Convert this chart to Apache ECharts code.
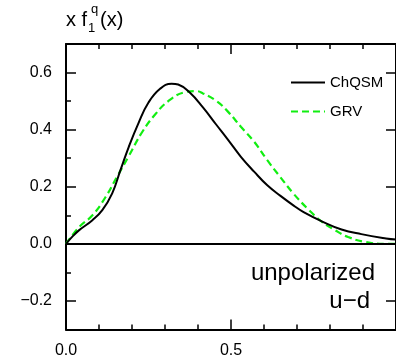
<!DOCTYPE html>
<html>
<head>
<meta charset="utf-8">
<script src="https://cdn.jsdelivr.net/npm/echarts@6/dist/echarts.min.js"></script>
<style>html,body{margin:0;padding:0;background:#fff;}#c{width:396px;height:360px;}</style>
</head>
<body>
<div id="c"></div>
<script>
// ChQSM curve
const chqsmX = [0, 0.02, 0.04, 0.08, 0.11, 0.14, 0.165, 0.19, 0.22, 0.25, 0.285, 0.32, 0.34, 0.375, 0.415, 0.455, 0.49, 0.53, 0.57, 0.61, 0.65, 0.69, 0.72, 0.78, 0.835, 0.895, 0.97, 1.0];
const chqsmY = [0, 0.026, 0.048, 0.083, 0.118, 0.177, 0.258, 0.339, 0.424, 0.495, 0.543, 0.561, 0.558, 0.530, 0.478, 0.418, 0.366, 0.305, 0.253, 0.205, 0.168, 0.134, 0.111, 0.076, 0.050, 0.034, 0.019, 0.015];
// GRV curve
const grvX = [0, 0.04, 0.08, 0.12, 0.155, 0.19, 0.23, 0.27, 0.31, 0.36, 0.395, 0.415, 0.455, 0.49, 0.53, 0.57, 0.61, 0.65, 0.69, 0.735, 0.775, 0.815, 0.855, 0.905, 0.97, 1.0];
const grvY = [0, 0.059, 0.100, 0.164, 0.236, 0.307, 0.390, 0.453, 0.500, 0.531, 0.535, 0.527, 0.501, 0.464, 0.410, 0.358, 0.293, 0.233, 0.175, 0.120, 0.078, 0.048, 0.024, 0.007, 0.0, 0.0];
// ticks
const yMajorTicks = [-0.2, 0, 0.2, 0.4, 0.6];
const yMinorTicks = [-0.1, 0.1, 0.3, 0.5];
const seriesNames = ['ChQSM', 'GRV'];

const FONT = 'Liberation Sans, Arial, sans-serif';
const zip = (xs, ys) => xs.map((x, i) => [x, ys[i]]);
const fmt = v => (v < 0 ? '\u2212' : '') + Math.abs(v).toFixed(1);

const chart = echarts.init(document.getElementById('c'), null, {renderer: 'canvas'});
const axisLine = {show: true, onZero: false, lineStyle: {color: '#000', width: 2}};
const tickStyle = {color: '#000', width: 1.5};
chart.setOption({
  animation: false,
  backgroundColor: '#fff',
  grid: {left: 66, right: -10, top: 44, bottom: 30.5},
  legend: {
    orient: 'vertical', left: 290, top: 75, padding: 0, itemWidth: 34, itemHeight: 14, itemGap: 14,
    itemStyle: {opacity: 0},
    textStyle: {fontFamily: FONT, fontSize: 15, color: '#000'},
    data: seriesNames
  },
  xAxis: [{
    type: 'value', min: 0, max: 1, interval: 0.5, position: 'bottom',
    axisLine: axisLine,
    axisTick: {show: true, inside: true, length: 10, lineStyle: tickStyle},
    minorTick: {show: true, splitNumber: 5, length: 5, lineStyle: tickStyle},
    splitLine: {show: false}, minorSplitLine: {show: false},
    axisLabel: {margin: 13, fontFamily: FONT, fontSize: 16, color: '#000', showMaxLabel: false, formatter: fmt}
  }, {
    type: 'value', min: 0, max: 1, interval: 0.5, position: 'top',
    axisLine: axisLine,
    axisTick: {show: true, inside: true, length: 10, lineStyle: tickStyle},
    minorTick: {show: true, splitNumber: 5, length: 5, lineStyle: tickStyle},
    splitLine: {show: false}, minorSplitLine: {show: false}, axisLabel: {show: false}
  }],
  yAxis: [{
    type: 'value', min: -0.3, max: 0.7, interval: 0.1, position: 'left',
    axisLine: axisLine,
    axisTick: {show: true, inside: true, length: 10, customValues: yMajorTicks, lineStyle: tickStyle},
    splitLine: {show: false},
    axisLabel: {margin: 14, fontFamily: FONT, fontSize: 16, color: '#000', customValues: yMajorTicks, formatter: fmt}
  }, {
    type: 'value', min: -0.3, max: 0.7, interval: 0.1, position: 'left',
    axisLine: {show: false, onZero: false},
    axisTick: {show: true, inside: true, length: 5, customValues: yMinorTicks, lineStyle: tickStyle},
    splitLine: {show: false}, axisLabel: {show: false}
  }, {
    type: 'value', min: -0.3, max: 0.7, interval: 0.1, position: 'right',
    axisLine: axisLine,
    axisTick: {show: true, inside: true, length: 10, customValues: yMajorTicks, lineStyle: tickStyle},
    splitLine: {show: false}, axisLabel: {show: false}
  }],
  series: [{
    name: seriesNames[0], type: 'line', smooth: 0.45, symbol: 'none',
    data: zip(chqsmX, chqsmY),
    lineStyle: {color: '#000', width: 2},
    itemStyle: {color: '#000'},
    markLine: {
      silent: true, symbol: 'none', label: {show: false},
      lineStyle: {color: '#000', width: 2, type: 'solid'},
      data: [{yAxis: 0}]
    },
    z: 3
  }, {
    name: seriesNames[1], type: 'line', smooth: 0.45, symbol: 'none',
    data: zip(grvX, grvY),
    lineStyle: {color: '#11ee11', width: 2.2, type: [7, 4]},
    itemStyle: {color: '#11ee11'},
    z: 2
  }],
  graphic: [
    {type: 'text', left: 66, top: 10, style: {text: 'x f', font: '20px ' + FONT, fill: '#000'}},
    {type: 'text', left: 88, top: 22, style: {text: '1', font: '13px ' + FONT, fill: '#000'}},
    {type: 'text', left: 91, top: 3, style: {text: 'q', font: '13px ' + FONT, fill: '#000'}},
    {type: 'text', left: 100, top: 10, style: {text: '(x)', font: '20px ' + FONT, fill: '#000'}},
    {type: 'text', right: 21, top: 261, style: {text: 'unpolarized', font: '24px ' + FONT, fill: '#000'}},
    {type: 'text', right: 26, top: 289, style: {text: 'u\u2212d', font: '24px ' + FONT, fill: '#000'}}
  ]
});
</script>
</body>
</html>
